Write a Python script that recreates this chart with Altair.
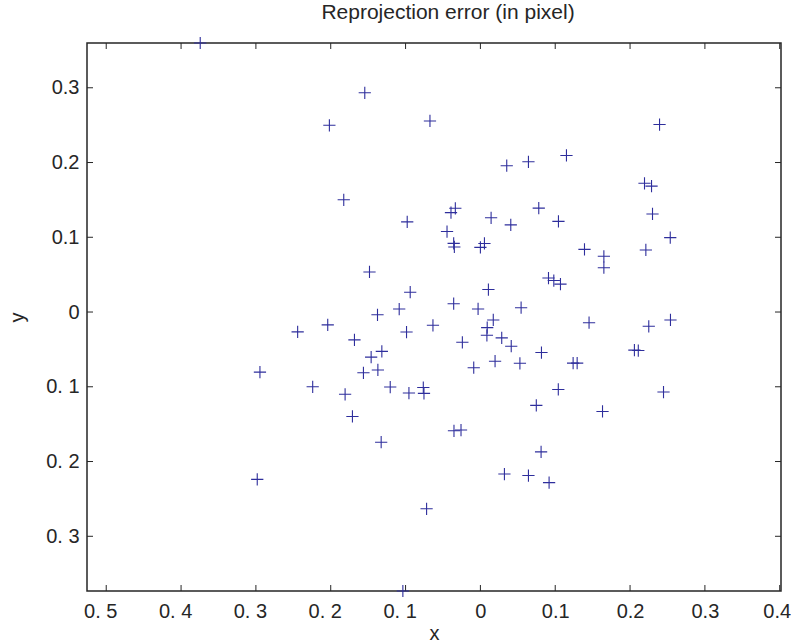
import altair as alt
import pandas as pd

# Reprojection error points (x, y) in pixels
xs = [-0.3744, -0.1545, -0.2018, -0.0674, -0.1826, -0.0978, -0.0393, -0.0335, -0.0446,
      -0.0357, -0.0348, 0.0000, 0.0054, -0.1482, -0.0938, -0.0357, -0.1085, -0.1375,
      -0.0031, -0.0634, -0.0987, -0.2040, -0.2442, -0.1683, -0.0241, -0.1317, -0.1460,
      -0.1370, -0.1563, -0.2946, -0.0089, -0.1205, -0.0955, -0.0763, -0.0754, -0.2241,
      -0.1808, -0.1710, -0.1326, -0.0353, -0.0259, -0.2982, -0.0719, -0.1036,
      0.2394, 0.0352, 0.0642, 0.1150, 0.2193, 0.2287, 0.0780, 0.0143, 0.0406, 0.1043,
      0.2300, 0.2537, 0.1391, 0.2211, 0.1650, 0.1650, 0.0910, 0.0981, 0.1070, 0.0107,
      0.0544, 0.0172, 0.0091, 0.0087, 0.0285, 0.0412, 0.1452, 0.2250, 0.2540, 0.0816,
      0.2058, 0.2110, 0.0196, 0.0528, 0.1239, 0.1293, 0.1041, 0.2447, 0.0747, 0.1632,
      0.0811, 0.0321, 0.0642, 0.0918]
ys = [0.3599, 0.2933, 0.2498, 0.2556, 0.1502, 0.1206, 0.1330, 0.1388, 0.1077,
      0.0919, 0.0870, 0.0865, 0.0917, 0.0536, 0.0265, 0.0111, 0.0040, -0.0037,
      0.0041, -0.0177, -0.0268, -0.0172, -0.0265, -0.0372, -0.0405, -0.0526, -0.0603,
      -0.0775, -0.0813, -0.0804, -0.0745, -0.1003, -0.1084, -0.1010, -0.1088, -0.1000,
      -0.1100, -0.1397, -0.1742, -0.1589, -0.1579, -0.2239, -0.2632, -0.3732,
      0.2508, 0.1957, 0.2010, 0.2095, 0.1722, 0.1684, 0.1390, 0.1261, 0.1166, 0.1213,
      0.1312, 0.0995, 0.0838, 0.0830, 0.0746, 0.0593, 0.0455, 0.0421, 0.0373, 0.0301,
      0.0058, -0.0106, -0.0208, -0.0311, -0.0346, -0.0457, -0.0143, -0.0191, -0.0106, -0.0542,
      -0.0510, -0.0515, -0.0658, -0.0686, -0.0684, -0.0684, -0.1036, -0.1070, -0.1249, -0.1330,
      -0.1871, -0.2167, -0.2187, -0.2282]

x_ticks = [-0.5, -0.4, -0.3, -0.2, -0.1, 0.0, 0.1, 0.2, 0.3, 0.4]
y_ticks = [-0.3, -0.2, -0.1, 0.0, 0.1, 0.2, 0.3]

x_domain = [-0.5257, 0.4017]
y_domain = [-0.3732, 0.3599]

W, H = 694, 548
TL = 6
INK = "#262626"
FONT = "Liberation Sans"

pts = pd.DataFrame({"x": xs, "y": ys})
xt = pd.DataFrame({"t": x_ticks})
yt = pd.DataFrame({"t": y_ticks})

label_expr = "datum.value < -0.0001 ? '0. ' + format(-datum.value * 10, 'd') : format(datum.value, '.1~f')"

xscale = alt.Scale(domain=x_domain, nice=False, zero=False)
yscale = alt.Scale(domain=y_domain, nice=False, zero=False)

points = alt.Chart(pts).mark_point(
    shape="M-1,0L1,0M0,-1L0,1", size=150, strokeWidth=1.1, color="#2e2e9c", filled=False, opacity=1
).encode(
    x=alt.X("x:Q", scale=xscale, title="x",
            axis=alt.Axis(values=x_ticks, labelExpr=label_expr, ticks=False, domain=False,
                          grid=False, labelPadding=10, titlePadding=2, labelFlush=False,
                          labelOffset={"condition": [
                              {"test": "datum.value < -0.0001", "value": -6},
                              {"test": "datum.value > 0.35", "value": -3}],
                              "value": 0})),
    y=alt.Y("y:Q", scale=yscale, title="y",
            axis=alt.Axis(values=y_ticks, labelExpr=label_expr, ticks=False, domain=False,
                          grid=False, labelPadding=8, titlePadding=18)),
)

bottom_ticks = alt.Chart(xt).mark_rule(color=INK, strokeWidth=1).encode(
    x=alt.X("t:Q", scale=xscale), y=alt.value(H), y2=alt.value(H - TL))
top_ticks = alt.Chart(xt).mark_rule(color=INK, strokeWidth=1).encode(
    x=alt.X("t:Q", scale=xscale), y=alt.value(0), y2=alt.value(TL))
left_ticks = alt.Chart(yt).mark_rule(color=INK, strokeWidth=1).encode(
    y=alt.Y("t:Q", scale=yscale), x=alt.value(0), x2=alt.value(TL))
right_ticks = alt.Chart(yt).mark_rule(color=INK, strokeWidth=1).encode(
    y=alt.Y("t:Q", scale=yscale), x=alt.value(W), x2=alt.value(W - TL))

chart = alt.layer(bottom_ticks, top_ticks, left_ticks, right_ticks, points).properties(
    width=W, height=H,
    title=alt.TitleParams("Reprojection error (in pixel)", fontSize=21, font=FONT,
                          fontWeight="normal", color=INK, offset=12, dx=14),
    autosize=alt.AutoSizeParams(type="none"),
    padding={"left": 87, "top": 43, "right": 10, "bottom": 52},
    background="white",
).configure_view(
    stroke=INK, strokeWidth=1.5
).configure_axis(
    labelFont=FONT, labelFontSize=20, labelColor=INK,
    titleFont=FONT, titleFontSize=20, titleColor=INK, titleFontWeight="normal",
)

chart.save("out.html", embed_options={"renderer": "svg", "actions": False})
